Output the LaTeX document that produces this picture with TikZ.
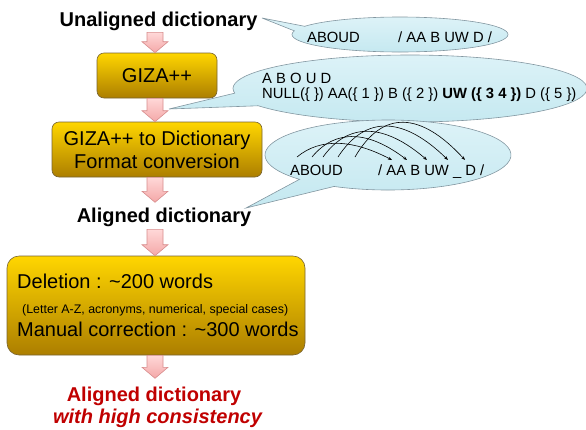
\documentclass[tikz,border=0pt]{standalone}
\usepackage{fontspec}
\setmainfont{Liberation Sans}
\usetikzlibrary{arrows.meta,calc}
\definecolor{gold1}{RGB}{255,214,0}
\definecolor{gold2}{RGB}{172,126,0}
\definecolor{boxedge}{RGB}{120,100,50}
\definecolor{bub}{RGB}{196,232,240}
\definecolor{bubtop}{RGB}{222,243,248}
\definecolor{bubedge}{RGB}{130,150,160}
\definecolor{pinkA}{RGB}{255,216,216}
\definecolor{pinkB}{RGB}{244,168,168}
\definecolor{pinkedge}{RGB}{215,140,140}
\definecolor{darkred}{RGB}{192,0,0}
\newcommand\blockarr[2]{\path[barrow] let \p1=(#1), \p2=(#2) in
  (\x1-8pt,\y1) -- (\x1+8pt,\y1) -- (\x1+8pt,\y2+11pt) -- (\x1+13pt,\y2+11pt) -- (\x1,\y2)
  -- (\x1-13pt,\y2+11pt) -- (\x1-8pt,\y2+11pt) -- cycle;}
% #1 centre, #2 rx, #3 ry, #4 angle A (upper base), #5 angle B (lower base), #6 tip
\newcommand\speech[6]{\path[bubble] ($(#1)+(#4:#2 and #3)$) -- (#6) -- ($(#1)+(#5:#2 and #3)$)
  arc[start angle=#5, end angle=#4-360, x radius=#2, y radius=#3] -- cycle;}
\begin{document}
\begin{tikzpicture}[x=1pt,y=-1pt,
  goldbox/.style={draw=boxedge, line width=0.6pt, top color=gold1, bottom color=gold2, rounded corners=7pt, inner sep=0pt},
  bubble/.style={draw=bubedge, line width=0.6pt, top color=bubtop, bottom color=bub},
  big/.style={font=\fontsize{20}{23}\selectfont},
  bigb/.style={font=\fontsize{20}{23}\selectfont\bfseries},
  btext/.style={font=\fontsize{14.8}{17}\selectfont, anchor=base west, inner sep=0pt},
  barrow/.style={draw=pinkedge, line width=0.6pt, top color=pinkA, bottom color=pinkB},
  alarc/.style={-{Stealth[length=4pt,width=3pt]}, line width=0.6pt}
]
\useasboundingbox (0,0) rectangle (586,429);
\coordinate (ax) at (155,0);

% main flow
\node[bigb, anchor=base, inner sep=0pt] (unal) at (158.5,26) {Unaligned dictionary};
\node[goldbox, big, minimum width=120pt, minimum height=45pt] (giza) at (157,75.5) {GIZA++};
\node[goldbox, big, align=center, minimum width=210pt, minimum height=55pt] (conv) at (157,149.5) {GIZA++ to Dictionary\\Format conversion};
\node[bigb, anchor=base, inner sep=0pt] (aligned) at (164,222) {Aligned dictionary};
\node[goldbox, rounded corners=12pt, minimum width=298pt, minimum height=99pt] (edit) at (156,305.5) {};
\node[big, anchor=base west, inner sep=0pt] (del) at (17,288) {Deletion : \textasciitilde200 words};
\node[font=\fontsize{12.4}{14}\selectfont, anchor=base west, inner sep=0pt] (note) at (22,313) {(Letter A-Z, acronyms, numerical, special cases)};
\node[big, anchor=base west, inner sep=0pt] (man) at (17,336) {Manual correction : \textasciitilde300 words};
\node[bigb, text=darkred, anchor=base, inner sep=0pt] (res1) at (154,401) {Aligned dictionary};
\node[font=\fontsize{20}{23}\selectfont\bfseries\itshape, text=darkred, anchor=base, inner sep=0pt] (res2) at (157.5,423) {with high consistency};

% block arrows
\blockarr{$(unal.south-|ax)+(0,2)$}{giza.north-|ax}
\blockarr{giza.south-|ax}{conv.north-|ax}
\blockarr{conv.south-|ax}{$(aligned.north-|ax)+(0,-5)$}
\blockarr{$(aligned.south-|ax)+(0,3)$}{edit.north-|ax}
\blockarr{edit.south-|ax}{$(res1.north-|ax)+(0,-8)$}

% callouts
\coordinate (t1) at (262,18);
\coordinate (t2) at (169,109);
\coordinate (t3) at (246,208);
\coordinate (c1) at (400,34.5);
\coordinate (c2) at (410,88.5);
\coordinate (c3) at (388,155);
\speech{c1}{108}{17.5}{208}{192}{t1}
\speech{c2}{177}{33.5}{172}{149}{t2}
\speech{c3}{123}{35}{136}{116}{t3}

\node[btext] (c1a) at (307,42) {ABOUD};
\node[btext] (c1b) at (398,42) {/ AA B UW D /};
\node[btext] (c2a) at (262,83) {A B O U D};
\node[btext] (c2b) at (262,98) {NULL(\{ \}) AA(\{ 1 \}) B (\{ 2 \}) \textbf{UW (\{ 3 4 \})} D (\{ 5 \})};
\node[btext] (c3a) at (290,175) {ABOUD};
\node[btext] (c3b) at (378,175) {/ AA B UW \_ D /};

% alignment arcs
\foreach \i/\sx/\ex/\k/\ca/\cb in {1/297/392/20/24/38, 2/312/407/29/24/38, 3/323/427/36/26/42, 4/338/448/43/28/44, 5/355/465/48/28/44}{
  \coordinate (s\i) at (\sx,157);
  \coordinate (e\i) at (\ex,160);
  \draw[alarc] (s\i) .. controls +(\ca,-\k) and +(-\cb,-\k) .. (e\i);
}
\end{tikzpicture}
\end{document}
